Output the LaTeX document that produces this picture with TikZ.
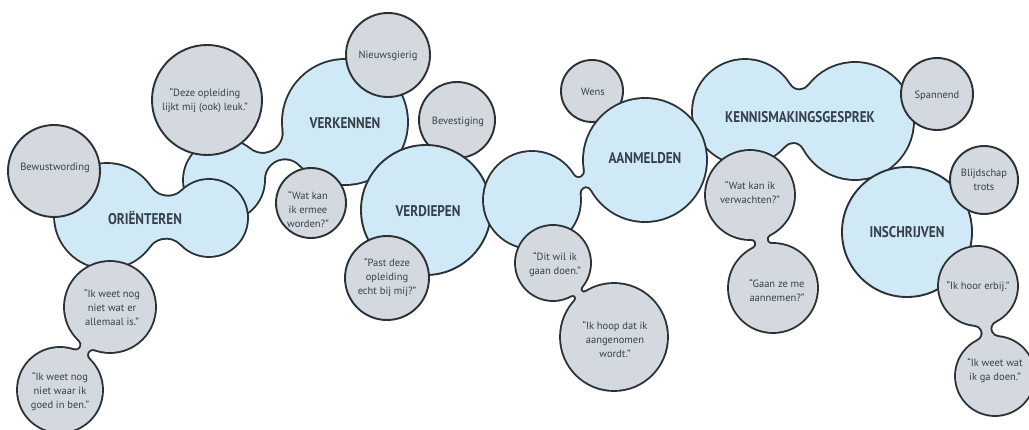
\documentclass[tikz,border=0pt]{standalone}
\usepackage{fontspec}
\setmainfont{PT Sans}
\definecolor{bluef}{HTML}{CFEAF6}
\definecolor{greyf}{HTML}{D3D9DF}
\definecolor{linec}{HTML}{2C3136}
\definecolor{txtc}{HTML}{35404A}
\tikzset{
 outl/.style={draw=linec, line width=3.8pt, line join=round},
 bfill/.style={fill=bluef},
 gfill/.style={fill=greyf},
 gcirc/.style={draw=linec, line width=1.9pt, fill=greyf},
 bcirc/.style={draw=linec, line width=1.9pt, fill=bluef},
 title/.style={text=txtc, font=\fontsize{15.5}{17}\selectfont\bfseries, inner sep=0pt},
 lbl/.style={text=txtc, font=\fontsize{10.5}{14}\selectfont, align=center, inner sep=0pt},
}
\newcommand\cir[4]{\path[#1] (#2,#3) circle[radius=#4pt];}
\newcommand\ttl[1]{\scalebox{0.85}[1]{#1}}
% neck between circle A (#2,#3,r=#4) and B (#5,#6,r=#7), cutting radius #8
\newcommand\nk[8]{%
 \pgfmathsetmacro\nkdx{#5-#2}%
 \pgfmathsetmacro\nkdy{#3-#6}%
 \pgfmathsetmacro\nkd{veclen(\nkdx,\nkdy)}%
 \pgfmathsetmacro\nka{atan2(\nkdy,\nkdx)}%
 \pgfmathsetmacro\nkP{#4+#8}%
 \pgfmathsetmacro\nkQ{#7+#8}%
 \pgfmathsetmacro\nkCx{(\nkP-\nkQ)*(\nkP+\nkQ)/(2*\nkd)+\nkd/2}%
 \pgfmathsetmacro\nkCy{sqrt((\nkP-\nkCx)*(\nkP+\nkCx))}%
 \pgfmathsetmacro\nkTx{\nkCx*#4/\nkP}%
 \pgfmathsetmacro\nkTy{\nkCy*#4/\nkP}%
 \pgfmathsetmacro\nkUx{\nkd+(\nkCx-\nkd)*#7/\nkQ}%
 \pgfmathsetmacro\nkUy{-\nkCy*#7/\nkQ}%
 \pgfmathsetmacro\nks{atan2(-\nkCy,-\nkCx)}%
 \pgfmathsetmacro\nke{atan2(-\nkCy,\nkd-\nkCx)}%
 \pgfmathsetmacro\nkss{-\nks}%
 \pgfmathsetmacro\nkee{-\nke}%
 \path[#1,shift={(#2,#3)},rotate=\nka] (0pt,0pt) -- (\nkTx pt,\nkTy pt)
   arc[start angle=\nks,end angle=\nke,radius=#8pt] -- (\nkd pt,0pt) -- (\nkUx pt,\nkUy pt)
   arc[start angle=\nkee,end angle=\nkss,radius=#8pt] -- cycle;%
}
\newcommand\gVerk[1]{\cir{#1}{224}{180}{40}\cir{#1}{345}{122}{62}\nk{#1}{224}{180}{40}{345}{122}{62}{21}}
\newcommand\gOri[1]{\cir{#1}{107}{216}{52}\cir{#1}{209}{218}{38}\nk{#1}{107}{216}{52}{209}{218}{38}{21}}
\newcommand\gQ[1]{\cir{#1}{110}{307}{45}\cir{#1}{60}{390}{42}\nk{#1}{110}{307}{45}{60}{390}{42}{6}}
\newcommand\gAan[1]{\cir{#1}{532}{200}{48}\cir{#1}{645}{160}{61}\nk{#1}{532}{200}{48}{645}{160}{61}{6.5}}
\newcommand\gDit[1]{\cir{#1}{553}{263}{37}\cir{#1}{614}{337}{53}\nk{#1}{553}{263}{37}{614}{337}{53}{3.5}}
\newcommand\gKen[1]{\cir{#1}{745}{112}{52}\cir{#1}{855}{121}{58}\nk{#1}{745}{112}{52}{855}{121}{58}{12}}
\newcommand\gWk[1]{\cir{#1}{750}{195}{44}\cir{#1}{773}{288}{44}\nk{#1}{750}{195}{44}{773}{288}{44}{5}}
\newcommand\gHoor[1]{\cir{#1}{978}{286}{39}\cir{#1}{995}{376}{39}\nk{#1}{978}{286}{39}{995}{376}{39}{8.5}}
\begin{document}
\begin{tikzpicture}[x=1pt,y=-1pt]
\path[use as bounding box, fill=white] (0,0) rectangle (1029,430);
\gVerk{outl}\gVerk{bfill}
\cir{gcirc}{207}{100}{55}
\gOri{outl}\gOri{bfill}
\cir{gcirc}{54}{171}{46}
\gQ{outl}\gQ{gfill}
\cir{gcirc}{388}{55}{42}
\cir{gcirc}{311}{203}{35}
\cir{gcirc}{457}{120}{38}
\cir{bcirc}{426}{210}{65}
\cir{gcirc}{387}{278}{42}
\cir{gcirc}{592}{91}{31}
\gKen{outl}\gKen{bfill}
\gAan{outl}\gAan{bfill}
\gDit{outl}\gDit{gfill}
\gWk{outl}\gWk{gfill}
\cir{gcirc}{937}{94}{36}
\cir{bcirc}{907}{232}{65}
\cir{gcirc}{984}{180}{34}
\gHoor{outl}\gHoor{gfill}
% texts
\node[lbl] (bewust) at (55,168) {Bewustwording};
\node[title] (orient) at (145,218) {\ttl{ORIËNTEREN}};
\node[lbl] (q1) at (112,307) {“Ik weet nog\\niet wat er\\allemaal is.”};
\node[lbl] (q2) at (60,392) {“Ik weet nog\\niet waar ik\\goed in ben.”};
\node[lbl] (deze) at (205,101) {“Deze opleiding\\lijkt mij (ook) leuk.”};
\node[title] (verk) at (345,123) {\ttl{VERKENNEN}};
\node[lbl] (nieuw) at (388,56) {Nieuwsgierig};
\node[lbl] (ermee) at (308,209) {“Wat kan\\ik ermee\\worden?”};
\node[lbl] (bevest) at (458,122) {Bevestiging};
\node[title] (verd) at (428,211) {\ttl{VERDIEPEN}};
\node[lbl] (past) at (387,278) {“Past deze\\opleiding\\echt bij mij?”};
\node[lbl] (wens) at (593,92) {Wens};
\node[title] (aanm) at (645,158) {\ttl{AANMELDEN}};
\node[lbl] (dit) at (555,265) {“Dit wil ik\\gaan doen.”};
\node[lbl] (hoop) at (615,339) {“Ik hoop dat ik\\aangenomen\\wordt.”};
\node[title] (kenn) at (800,117) {\ttl{KENNISMAKINGSGESPREK}};
\node[lbl] (spann) at (937,96) {Spannend};
\node[lbl] (verw) at (750,192) {“Wat kan ik\\verwachten?”};
\node[lbl] (gaan) at (777,290) {“Gaan ze me\\aannemen?”};
\node[title] (inschr) at (907,232) {\ttl{INSCHRIJVEN}};
\node[lbl] (blijd) at (984,180) {Blijdschap\\trots};
\node[lbl] (hoor) at (978,287) {“Ik hoor erbij.”};
\node[lbl] (weet) at (995,371) {“Ik weet wat\\ik ga doen.”};
\end{tikzpicture}
\end{document}
